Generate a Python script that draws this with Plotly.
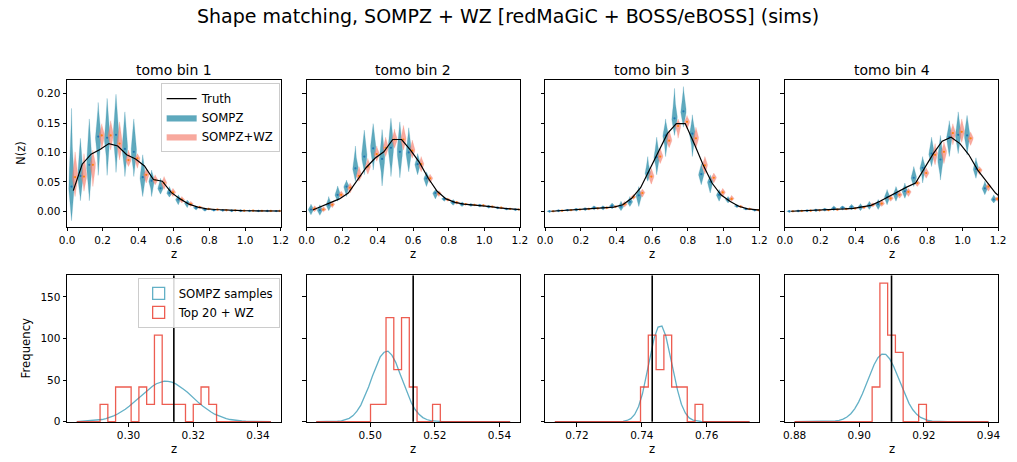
import numpy as np
import plotly.graph_objects as go

W, H = 1017, 462

# ------------------------------------------------------------------ data
panel_titles = ["tomo bin 1", "tomo bin 2", "tomo bin 3", "tomo bin 4"]

# redshift bin centres (truth curve); SOMPZ violins sit at z-0.01, SOMPZ+WZ at z+0.01
z_centres = [0.035, 0.085, 0.135, 0.185, 0.235, 0.285, 0.335, 0.385, 0.435, 0.485,
             0.535, 0.585, 0.635, 0.685, 0.735, 0.785, 0.835, 0.885, 0.935, 0.985,
             1.035, 1.085, 1.135, 1.185, 1.235]

truth_nz = [
    [0.035, 0.080, 0.097, 0.105, 0.115, 0.111, 0.096, 0.089, 0.077, 0.054, 0.051, 0.032, 0.021,
     0.012, 0.007, 0.004, 0.003, 0.002, 0.0015, 0.001, 0.0008, 0.0006, 0.0005, 0.0004, 0.0003],
    [0.002, 0.008, 0.014, 0.021, 0.031, 0.053, 0.074, 0.090, 0.101, 0.122, 0.122, 0.104, 0.083,
     0.056, 0.034, 0.021, 0.015, 0.012, 0.011, 0.0095, 0.008, 0.0056, 0.004, 0.003, 0.002],
    [0.000, 0.001, 0.002, 0.003, 0.004, 0.005, 0.0055, 0.007, 0.011, 0.022, 0.040, 0.070, 0.101,
     0.132, 0.149, 0.149, 0.115, 0.079, 0.048, 0.028, 0.017, 0.0085, 0.004, 0.002, 0.001],
    [0.000, 0.0005, 0.001, 0.0015, 0.002, 0.003, 0.004, 0.005, 0.007, 0.010, 0.017, 0.025, 0.034,
     0.041, 0.048, 0.073, 0.098, 0.119, 0.126, 0.115, 0.096, 0.070, 0.051, 0.031, 0.018],
]

# SOMPZ violins: mean, lower end, upper end (24 bins)
sompz_mean = [
    [0.042, 0.060, 0.079, 0.127, 0.125, 0.130, 0.106, 0.101, 0.058, 0.052, 0.039, 0.031, 0.020,
     0.014, 0.006, 0.003, 0.002, 0.0015, 0.001, 0.001, 0.0008, 0.0005, 0.0005, 0.0004],
    [0.003, 0.002, 0.011, 0.028, 0.042, 0.073, 0.093, 0.107, 0.089, 0.108, 0.101, 0.100, 0.080,
     0.056, 0.031, 0.021, 0.015, 0.012, 0.011, 0.010, 0.008, 0.006, 0.004, 0.003],
    [0.000, 0.001, 0.002, 0.003, 0.004, 0.006, 0.006, 0.009, 0.008, 0.016, 0.027, 0.065, 0.092,
     0.129, 0.158, 0.170, 0.132, 0.063, 0.050, 0.028, 0.020, 0.009, 0.004, 0.002],
    [0.000, 0.0005, 0.001, 0.002, 0.003, 0.005, 0.006, 0.007, 0.007, 0.010, 0.012, 0.024, 0.029,
     0.034, 0.057, 0.074, 0.098, 0.088, 0.126, 0.130, 0.129, 0.072, 0.039, 0.020],
]
sompz_low = [
    [-0.016, 0.018, 0.018, 0.061, 0.061, 0.066, 0.059, 0.059, 0.025, 0.025, 0.029, 0.024, 0.011,
     0.006, 0.002, 0.000, 0.000, 0.000, -0.001, -0.001, -0.001, -0.001, -0.001, -0.001],
    [-0.006, -0.007, 0.001, 0.017, 0.025, 0.051, 0.062, 0.070, 0.043, 0.059, 0.057, 0.067, 0.062,
     0.042, 0.021, 0.017, 0.010, 0.008, 0.008, 0.007, 0.005, 0.004, 0.002, 0.001],
    [-0.002, -0.001, 0.000, 0.000, 0.001, 0.002, 0.002, 0.004, 0.001, 0.008, 0.008, 0.051, 0.062,
     0.093, 0.129, 0.143, 0.093, 0.045, 0.031, 0.017, 0.014, 0.006, 0.002, 0.000],
    [-0.002, -0.0015, -0.001, -0.001, 0.000, 0.001, 0.002, 0.002, 0.001, 0.003, 0.003, 0.011, 0.017,
     0.022, 0.042, 0.048, 0.076, 0.053, 0.093, 0.098, 0.096, 0.056, 0.028, 0.014],
]
sompz_high = [
    [0.175, 0.124, 0.157, 0.185, 0.192, 0.199, 0.169, 0.157, 0.096, 0.070, 0.056, 0.042, 0.028,
     0.019, 0.0095, 0.006, 0.004, 0.003, 0.003, 0.002, 0.002, 0.002, 0.0015, 0.0015],
    [0.012, 0.011, 0.025, 0.043, 0.053, 0.111, 0.138, 0.149, 0.139, 0.158, 0.152, 0.142, 0.098,
     0.067, 0.037, 0.025, 0.020, 0.016, 0.014, 0.013, 0.011, 0.008, 0.006, 0.005],
    [0.002, 0.003, 0.004, 0.006, 0.007, 0.010, 0.010, 0.014, 0.017, 0.025, 0.042, 0.093, 0.126,
     0.157, 0.209, 0.212, 0.164, 0.081, 0.062, 0.037, 0.025, 0.012, 0.006, 0.004],
    [0.002, 0.0025, 0.003, 0.005, 0.006, 0.009, 0.010, 0.012, 0.013, 0.017, 0.020, 0.037, 0.042,
     0.048, 0.076, 0.093, 0.126, 0.129, 0.154, 0.169, 0.163, 0.091, 0.051, 0.028],
]

# SOMPZ+WZ violins
wz_mean = [
    [0.058, 0.059, 0.079, 0.129, 0.129, 0.115, 0.087, 0.090, 0.062, 0.053, 0.048, 0.032, 0.020,
     0.012, 0.007, 0.004, 0.003, 0.002, 0.0015, 0.001, 0.001, 0.0008, 0.0006, 0.0005],
    [0.0045, 0.003, 0.011, 0.028, 0.040, 0.060, 0.076, 0.097, 0.108, 0.122, 0.122, 0.103, 0.080,
     0.056, 0.030, 0.020, 0.015, 0.012, 0.011, 0.010, 0.008, 0.006, 0.004, 0.003],
    [0.000, 0.001, 0.002, 0.003, 0.004, 0.005, 0.006, 0.008, 0.012, 0.024, 0.031, 0.059, 0.093,
     0.120, 0.145, 0.152, 0.124, 0.078, 0.057, 0.032, 0.021, 0.008, 0.004, 0.002],
    [0.000, 0.0005, 0.001, 0.0015, 0.002, 0.003, 0.004, 0.005, 0.007, 0.011, 0.013, 0.022, 0.028,
     0.033, 0.048, 0.065, 0.096, 0.101, 0.133, 0.135, 0.124, 0.070, 0.042, 0.021],
]
wz_low = [
    [0.025, 0.034, 0.042, 0.104, 0.104, 0.087, 0.076, 0.073, 0.048, 0.045, 0.037, 0.025, 0.014,
     0.008, 0.004, 0.002, 0.001, 0.000, 0.000, -0.0005, -0.0005, -0.0007, -0.0009, -0.001],
    [-0.001, -0.001, 0.006, 0.022, 0.031, 0.051, 0.063, 0.085, 0.093, 0.107, 0.104, 0.090, 0.067,
     0.048, 0.025, 0.017, 0.012, 0.010, 0.009, 0.008, 0.006, 0.004, 0.003, 0.002],
    [-0.0015, -0.0005, 0.0005, 0.0015, 0.002, 0.003, 0.004, 0.006, 0.007, 0.020, 0.024, 0.046, 0.081,
     0.108, 0.124, 0.140, 0.107, 0.063, 0.048, 0.025, 0.017, 0.006, 0.002, 0.000],
    [-0.0015, -0.001, -0.0005, 0.000, 0.0005, 0.001, 0.002, 0.003, 0.004, 0.007, 0.008, 0.017, 0.022,
     0.025, 0.042, 0.056, 0.079, 0.081, 0.113, 0.117, 0.112, 0.062, 0.034, 0.017],
]
wz_high = [
    [0.101, 0.098, 0.104, 0.149, 0.154, 0.152, 0.104, 0.098, 0.073, 0.062, 0.059, 0.039, 0.025,
     0.017, 0.010, 0.006, 0.005, 0.004, 0.003, 0.0025, 0.0025, 0.0023, 0.0021, 0.002],
    [0.0095, 0.008, 0.017, 0.034, 0.048, 0.076, 0.090, 0.111, 0.126, 0.140, 0.146, 0.121, 0.093,
     0.063, 0.035, 0.023, 0.018, 0.014, 0.013, 0.012, 0.010, 0.008, 0.006, 0.005],
    [0.0015, 0.0025, 0.0035, 0.0045, 0.006, 0.007, 0.008, 0.010, 0.017, 0.029, 0.038, 0.073, 0.107,
     0.138, 0.157, 0.163, 0.143, 0.093, 0.065, 0.039, 0.027, 0.011, 0.006, 0.004],
    [0.0015, 0.002, 0.0025, 0.003, 0.0035, 0.005, 0.006, 0.007, 0.010, 0.015, 0.020, 0.028, 0.034,
     0.039, 0.053, 0.074, 0.115, 0.118, 0.149, 0.157, 0.135, 0.076, 0.048, 0.025],
]

# bottom row: true mean redshift per bin
truth_mean_z = [0.3140, 0.5133, 0.7432, 0.9100]
hist_half_range = 0.03          # histograms span truth +/- 0.03

# "Top 20 + WZ": counts in 25 bins over the histogram range (20 samples)
top20_counts = [
    [0, 0, 0, 1, 0, 2, 2, 0, 2, 1, 5, 1, 1, 1, 0, 1, 2, 1, 0, 0, 0, 0, 0, 0, 0],
    [0, 0, 0, 0, 0, 0, 0, 1, 1, 6, 3, 6, 2, 0, 0, 1, 0, 0, 0, 0, 0, 0, 0, 0, 0],
    [0, 0, 0, 0, 0, 0, 0, 0, 0, 0, 0, 2, 5, 3, 5, 2, 2, 0, 1, 0, 0, 0, 0, 0, 0],
    [0, 0, 0, 0, 0, 0, 0, 0, 0, 0, 2, 8, 5, 4, 0, 0, 1, 0, 0, 0, 0, 0, 0, 0, 0],
]

# "SOMPZ samples": density in 50 bins over the histogram range
sompz_density = [
    [0.2, 0.3, 0.5, 0.8, 1.2, 1.8, 2.6, 3.7, 5.1, 6.9, 9.2, 11.7, 15.0, 18.4, 22.5, 26.5, 31.0,
     35.1, 39.2, 42.5, 45.6, 47.3, 48.6, 48.4, 47.5, 45.4, 42.7, 39.0, 35.3, 30.8, 26.7, 22.3,
     18.6, 14.8, 11.9, 9.0, 7.0, 5.0, 3.7, 2.6, 1.8, 1.2, 0.8, 0.5, 0.3, 0.2, 0.1, 0.1, 0.0, 0.0],
    [0.0, 0.0, 0.0, 0.1, 0.2, 0.5, 1.0, 2.1, 4.0, 7.3, 12.6, 19.9, 29.9, 41.6, 55.0, 67.2, 77.8,
     83.5, 84.8, 80.0, 71.3, 58.9, 46.2, 33.4, 23.1, 14.6, 8.9, 4.9, 2.6, 1.3, 0.6, 0.3, 0.1,
     0.0, 0.0, 0.0, 0.0, 0.0, 0.0, 0.0, 0.0, 0.0, 0.0, 0.0, 0.0, 0.0, 0.0, 0.0, 0.0, 0.0],
    [0.0, 0.0, 0.0, 0.0, 0.0, 0.0, 0.0, 0.0, 0.0, 0.0, 0.0, 0.0, 0.0, 0.0, 0.0, 0.0, 0.1,
     0.4, 1.4, 3.6, 8.7, 18.2, 33.5, 54.5, 78.8, 100.5, 113.8, 115.0, 103.0, 83.0, 60.0, 38.0,
     21.0, 10.5, 4.5, 1.8, 0.6, 0.2, 0.0, 0.0, 0.0, 0.0, 0.0, 0.0, 0.0, 0.0, 0.0, 0.0, 0.0, 0.0],
    [0.0, 0.0, 0.0, 0.0, 0.0, 0.0, 0.0, 0.0, 0.2, 0.4, 0.8, 1.6, 3.1, 5.6, 9.6, 15.5, 23.5,
     33.6, 45.3, 57.4, 68.5, 76.9, 81.3, 80.9, 75.7, 66.8, 55.4, 43.2, 31.8, 22.0, 14.3, 8.8,
     5.1, 2.8, 1.4, 0.7, 0.3, 0.1, 0.0, 0.0, 0.0, 0.0, 0.0, 0.0, 0.0, 0.0, 0.0, 0.0, 0.0, 0.0],
]

bottom_ticks = [[0.30, 0.32, 0.34], [0.50, 0.52, 0.54], [0.72, 0.74, 0.76],
                [0.88, 0.90, 0.92, 0.94]]

# ------------------------------------------------------------------ style
FONT = "DejaVu Sans"
TEAL_FILL = "rgba(58,150,175,0.82)"
SALMON_FILL = "rgba(244,128,112,0.68)"
TEAL_LINE = "rgba(72,162,188,0.85)"
RED_LINE = "rgba(232,48,32,0.78)"
VIOLIN_HALF_WIDTH = 0.0155
DODGE = 0.01

px_x = [(60, 277), (303.3, 520), (545.7, 763.3), (789.3, 1006)]
top_px = (80.7, 229.3)
bot_px = (278.3, 426.7)


def xdom(i):
    return [px_x[i][0] / W, px_x[i][1] / W]


def ydom(p):
    return [1 - p[1] / H, 1 - p[0] / H]


def violin_xy(pos, mids, los, his, hw):
    u = np.linspace(-1, 1, 61)
    prof = 0.2 * (1 - u ** 4) + 0.8 * np.exp(-7.0 * u ** 2)
    xs, ys = [], []
    for p, m, lo, hi in zip(pos, mids, los, his):
        yy = np.where(u < 0, m + u * (m - lo), m + u * (hi - m))
        xs += list(p + hw * prof) + list((p - hw * prof)[::-1]) + [None]
        ys += list(yy) + list(yy[::-1]) + [None]
    return xs, ys


def step_xy(left, width, vals):
    xs, ys = [left], [0.0]
    for i, v in enumerate(vals):
        xs += [left + i * width, left + (i + 1) * width]
        ys += [v, v]
    xs.append(left + len(vals) * width)
    ys.append(0.0)
    return xs, ys


def fine_hist_xy(left, width, vals):
    # fine-binned histogram outline: trace through the bin centres
    xs = [left] + [left + (i + 0.5) * width for i in range(len(vals))] + [left + len(vals) * width]
    ys = [0.0] + list(vals) + [0.0]
    return xs, ys


fig = go.Figure()
axis_common = dict(showline=True, linecolor="black", linewidth=1, mirror=True,
                   ticks="outside", ticklen=3.5, tickwidth=1, tickcolor="black",
                   showgrid=False, zeroline=False,
                   tickfont=dict(family=FONT, size=10.5, color="black"))

z_sompz = [z - DODGE for z in z_centres[:24]]
z_wz = [z + DODGE for z in z_centres[:24]]

for i in range(4):
    xa = "x" if i == 0 else f"x{i + 1}"
    ya = "y" if i == 0 else f"y{i + 1}"
    first = i == 0
    vx, vy = violin_xy(z_sompz, sompz_mean[i], sompz_low[i], sompz_high[i], VIOLIN_HALF_WIDTH)
    fig.add_trace(go.Scatter(x=vx, y=vy, mode="lines", fill="toself", fillcolor=TEAL_FILL,
                             line=dict(width=0.3, color=TEAL_FILL), name="SOMPZ",
                             showlegend=first, legend="legend", legendrank=2,
                             xaxis=xa, yaxis=ya, hoverinfo="skip"))
    vx, vy = violin_xy(z_wz, wz_mean[i], wz_low[i], wz_high[i], VIOLIN_HALF_WIDTH)
    fig.add_trace(go.Scatter(x=vx, y=vy, mode="lines", fill="toself", fillcolor=SALMON_FILL,
                             line=dict(width=0.3, color=SALMON_FILL), name="SOMPZ+WZ",
                             showlegend=first, legend="legend", legendrank=3,
                             xaxis=xa, yaxis=ya, hoverinfo="skip"))
    fig.add_trace(go.Scatter(x=z_sompz, y=sompz_mean[i], mode="markers",
                             marker=dict(size=2.2, color="#1f77b4"), showlegend=False,
                             xaxis=xa, yaxis=ya))
    fig.add_trace(go.Scatter(x=z_wz, y=wz_mean[i], mode="markers",
                             marker=dict(size=2.2, color="#ff7f0e"), showlegend=False,
                             xaxis=xa, yaxis=ya))
    fig.add_trace(go.Scatter(x=z_centres, y=truth_nz[i], mode="lines",
                             line=dict(color="black", width=1.2), name="Truth",
                             showlegend=first, legend="legend", legendrank=1,
                             xaxis=xa, yaxis=ya))

    fig.update_layout(**{
        ("xaxis" if i == 0 else f"xaxis{i + 1}"): dict(
            axis_common, domain=xdom(i), anchor=ya, range=[0, 1.2],
            tickvals=[0.0, 0.2, 0.4, 0.6, 0.8, 1.0, 1.2], tickformat=".1f"),
        ("yaxis" if i == 0 else f"yaxis{i + 1}"): dict(
            axis_common, domain=ydom(top_px), anchor=xa, range=[-0.0265, 0.2235],
            tickvals=[0.0, 0.05, 0.10, 0.15, 0.20], tickformat=".2f",
            showticklabels=first),
    })

    # bottom row
    j = i + 5
    xb, yb = f"x{j}", f"y{j}"
    t = truth_mean_z[i]
    left = t - hist_half_range
    n_teal = len(sompz_density[i])
    hx, hy = fine_hist_xy(left, 2 * hist_half_range / n_teal, sompz_density[i])
    fig.add_trace(go.Scatter(x=hx, y=hy, mode="lines", line=dict(color=TEAL_LINE, width=1.3),
                             showlegend=False, xaxis=xb, yaxis=yb, hoverinfo="skip"))
    n_red = len(top20_counts[i])
    bw = 2 * hist_half_range / n_red
    total = sum(top20_counts[i])
    dens = [c / (total * bw) for c in top20_counts[i]]
    hx, hy = step_xy(left, bw, dens)
    fig.add_trace(go.Scatter(x=hx, y=hy, mode="lines", line=dict(color=RED_LINE, width=1.3),
                             showlegend=False, xaxis=xb, yaxis=yb, hoverinfo="skip"))
    fig.add_trace(go.Scatter(x=[t, t], y=[0, 176], mode="lines",
                             line=dict(color="black", width=1.6), showlegend=False,
                             xaxis=xb, yaxis=yb, hoverinfo="skip"))
    fig.update_layout(**{
        f"xaxis{j}": dict(axis_common, domain=xdom(i), anchor=yb,
                          range=[t - 0.033, t + 0.033], tickvals=bottom_ticks[i],
                          tickformat=".2f", layer="below traces"),
        f"yaxis{j}": dict(axis_common, domain=ydom(bot_px), anchor=xb, range=[-0.5, 176],
                          tickvals=[0, 50, 100, 150], showticklabels=first),
    })

# legend entries for the histogram panel (outlined patches)
fig.add_trace(go.Bar(x=[None], y=[None], name="SOMPZ samples", legend="legend2", legendrank=1,
                     marker=dict(color="rgba(0,0,0,0)", line=dict(color=TEAL_LINE, width=1.3)),
                     xaxis="x5", yaxis="y5"))
fig.add_trace(go.Bar(x=[None], y=[None], name="Top 20 + WZ", legend="legend2", legendrank=2,
                     marker=dict(color="rgba(0,0,0,0)", line=dict(color=RED_LINE, width=1.3)),
                     xaxis="x5", yaxis="y5"))

ann = []
ann.append(dict(text="Shape matching, SOMPZ + WZ [redMaGiC + BOSS/eBOSS] (sims)",
                x=508 / W, y=1 - 16 / H, xref="paper", yref="paper", showarrow=False,
                xanchor="center", yanchor="middle", font=dict(family=FONT, size=19, color="black")))
for i in range(4):
    cx = (px_x[i][0] + px_x[i][1]) / 2 / W
    ann.append(dict(text=panel_titles[i], x=cx, y=1 - 71 / H, xref="paper", yref="paper",
                    showarrow=False, xanchor="center", yanchor="middle",
                    font=dict(family=FONT, size=14, color="black")))
    for yy in (257, 454):
        ann.append(dict(text="z", x=cx, y=1 - yy / H, xref="paper", yref="paper",
                        showarrow=False, xanchor="center", yanchor="middle",
                        font=dict(family=FONT, size=11.7, color="black")))
ann.append(dict(text="N(z)", x=14 / W, y=1 - 155 / H, xref="paper", yref="paper",
                showarrow=False, textangle=-90, xanchor="center", yanchor="middle",
                font=dict(family=FONT, size=11.7, color="black")))
ann.append(dict(text="Frequency", x=18 / W, y=1 - 352.5 / H, xref="paper", yref="paper",
                showarrow=False, textangle=-90, xanchor="center", yanchor="middle",
                font=dict(family=FONT, size=11.7, color="black")))

legend_style = dict(bgcolor="rgba(255,255,255,0.85)", bordercolor="#cccccc", borderwidth=1,
                    font=dict(family=FONT, size=11.7, color="black"), itemwidth=30,
                    xanchor="right", yanchor="top", tracegroupgap=0)
fig.update_layout(
    width=W, height=H, margin=dict(l=0, r=0, t=0, b=0),
    paper_bgcolor="white", plot_bgcolor="white",
    font=dict(family=FONT, color="black"),
    annotations=ann, showlegend=True, barmode="overlay",
    legend=dict(legend_style, x=276 / W, y=1 - 84 / H),
    legend2=dict(legend_style, x=276 / W, y=1 - 281 / H),
)

fig.write_html("out.html")
